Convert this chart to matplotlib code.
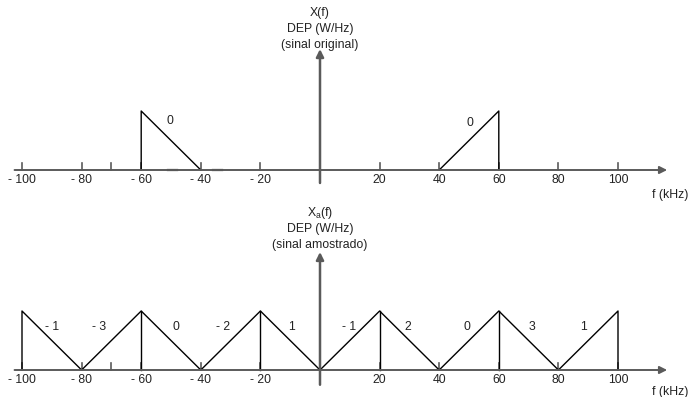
import matplotlib
matplotlib.use('Agg')
import matplotlib.pyplot as plt

plt.rcParams['font.family'] = ['Liberation Sans', 'DejaVu Sans']
plt.rcParams['font.size'] = 8.8
plt.rcParams['mathtext.default'] = 'regular'

# 頻率軸刻度 (kHz)
tick_pos = [-100, -80, -60, -40, -20, 20, 40, 60, 80, 100]
tick_txt = ['- 100', '- 80', '- 60', '- 40', '- 20', '20', '40', '60', '80', '100']
extra_ticks = [-70]

# 原始信號頻譜 (兩個三角形)
orig_left_f = [-60, -60, -40]
orig_left_a = [0, 1, 0]
orig_right_f = [40, 60, 60]
orig_right_a = [0, 1, 0]
orig_lbl_f = [-50.3, 50.3]
orig_lbl_a = [0.83, 0.80]
orig_lbl_txt = ['0', '0']

# 取樣後信號頻譜 (鋸齒)
samp_f = [-100, -100, -80, -60, -40, -20, 0, 20, 40, 60, 80, 100, 100]
samp_a = [0, 1, 0, 1, 0, 1, 0, 1, 0, 1, 0, 1, 0]
samp_vert = [-60, -20, 20, 60]
samp_lbl_f = [-90, -74, -48.3, -32.6, -9.4, 9.7, 29.5, 49.3, 71, 88.3]
samp_lbl_txt = ['- 1', '- 3', '0', '- 2', '1', '- 1', '2', '0', '3', '1']
samp_lbl_a = 0.73

AXC = '#5a5a5a'
W, H = 689, 397
fig = plt.figure(figsize=(W / 100, H / 100), dpi=100)

PX = 2.98   # pixel per kHz
PY = 59.0   # pixel per amplitude unit
X0 = 320


def make_axes(top_px, bot_px, axis_px):
    ax = fig.add_axes([0, (H - bot_px) / H, 1, (bot_px - top_px) / H])
    ax.set_xlim(-X0 / PX, (W - X0) / PX)
    ax.set_ylim((axis_px - bot_px) / PY, (axis_px - top_px) / PY)
    ax.axis('off')
    return ax


def draw_axes(ax, vlow, vtop, titles, flab_a):
    # 水平軸
    ax.annotate('', xy=(116.5, 0), xytext=(-102.5, 0),
                arrowprops=dict(arrowstyle='-|>', color=AXC, lw=1.4,
                                mutation_scale=11, shrinkA=0, shrinkB=0))
    # 垂直軸
    ax.annotate('', xy=(0, vtop), xytext=(0, vlow),
                arrowprops=dict(arrowstyle='-|>', color=AXC, lw=1.8,
                                mutation_scale=11, shrinkA=0, shrinkB=0))
    for p in tick_pos + extra_ticks:
        ax.plot([p, p], [0, 0.12], color=AXC, lw=1.2)
    for p, t in zip(tick_pos, tick_txt):
        ax.text(p, -0.17, t, ha='center', va='center', color='#222222')
    for i, t in enumerate(titles):
        ax.text(0, 2.66 - 0.27 * i, t, ha='center', va='center', color='#222222')
    ax.text(117.5, flab_a, 'f (kHz)', ha='center', va='center', color='#222222')


# 上圖: 原始信號
ax1 = make_axes(0, 200, 170)
draw_axes(ax1, -0.22, 2.05, ['X(f)', 'DEP (W/Hz)', '(sinal original)'], -0.42)
ax1.plot(orig_left_f, orig_left_a, color='black', lw=1)
ax1.plot(orig_right_f, orig_right_a, color='black', lw=1)
ax1.plot([-51, -48], [0, 0], color='#333333', lw=1.6)
ax1.plot([-36, -33], [0, 0], color='#333333', lw=1.6)
for f, a, t in zip(orig_lbl_f, orig_lbl_a, orig_lbl_txt):
    ax1.text(f, a, t, ha='center', va='center', color='#222222')

# 下圖: 取樣後信號
ax2 = make_axes(200, 397, 370)
draw_axes(ax2, -0.25, 2.0, [r'X$_a$(f)', 'DEP (W/Hz)', '(sinal amostrado)'], -0.37)
ax2.plot(samp_f, samp_a, color='black', lw=1)
for v in samp_vert:
    ax2.plot([v, v], [0, 1], color='black', lw=1)
for f, t in zip(samp_lbl_f, samp_lbl_txt):
    ax2.text(f, samp_lbl_a, t, ha='center', va='center', color='#222222')

fig.savefig('out.png', dpi=100)
